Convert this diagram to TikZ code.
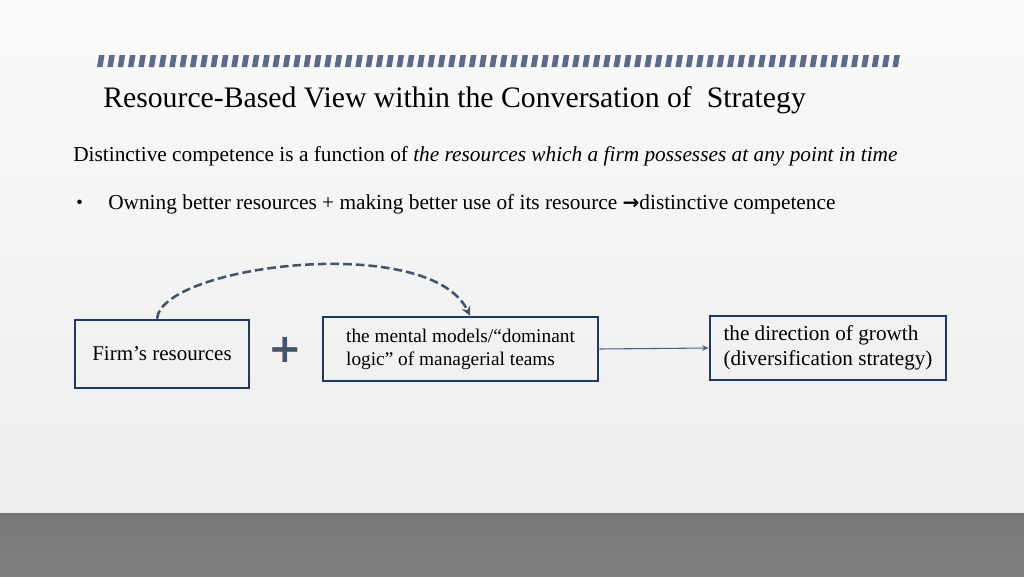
\documentclass[tikz,border=0pt]{standalone}
\usepackage{fontspec}
\setmainfont{Liberation Serif}
\newfontfamily\symfont{DejaVu Sans}
\usetikzlibrary{arrows.meta,calc}
\definecolor{boxblue}{HTML}{1F3864}
\definecolor{stripe}{HTML}{5E6A8A}
\definecolor{dashc}{HTML}{44546A}
\definecolor{plusc}{HTML}{44546A}
\begin{document}
\begin{tikzpicture}[x=0.75pt,y=-0.75pt,
  box/.style={draw=boxblue, line width=1.9pt, align=left, inner sep=0pt},
  ttl/.style={anchor=west, inner sep=0pt}]
\useasboundingbox (0,0) rectangle (1024,576);
% background
\shade[top color=white!96!gray, bottom color=white!86!gray] (0,0) rectangle (1024,514);
\fill[black!55] (0,513) rectangle (1024,516);
\shade[top color=black!53, bottom color=black!50] (0,516) rectangle (1024,576);
% striped bar
\foreach \i in {0,...,77} {
  \fill[stripe] ({97+\i*10.33},67) -- ({97+\i*10.33+5.5},67) -- ({97+\i*10.33+7.5},55) -- ({97+\i*10.33+2},55) -- cycle;
}
% texts
\node[ttl, font=\fontsize{22.3pt}{25pt}\selectfont] (title) at (103,100) {Resource-Based View within the Conversation of\ \ Strategy};
\node[ttl, font=\fontsize{16pt}{19pt}\selectfont] (sub) at (73,156) {Distinctive competence is a function of \textit{the resources which a firm possesses at any point in time}};
\node[ttl, font=\fontsize{14pt}{19pt}\selectfont] (bul) at (76,204) {•};
\node[ttl, font=\fontsize{16pt}{19pt}\selectfont] (btxt) at (108,204) {Owning better resources + making better use of its resource {\symfont\bfseries\fontsize{15pt}{17pt}\selectfont →}distinctive competence};
% boxes
\node[box, minimum width=174*0.75pt, minimum height=68*0.75pt, font=\fontsize{15.75pt}{18pt}\selectfont] (firm) at (162,354) {Firm’s resources};
\node[box, minimum width=275*0.75pt, minimum height=64*0.75pt, font=\fontsize{14.5pt}{17.25pt}\selectfont] (mental) at (460.5,349) {the mental models/“dominant\\logic” of managerial teams};
\node[box, minimum width=236*0.75pt, minimum height=64*0.75pt, font=\fontsize{15.9pt}{19pt}\selectfont] (dir) at (828,348) {the direction of growth\\(diversification strategy)};
\node[text=plusc, font=\symfont\bfseries\fontsize{30pt}{30pt}\selectfont, inner sep=0pt] (plus) at (285,350) {+};
% connectors
\coordinate (cs) at ($(firm.north)+(-5,0)$);
\coordinate (ce) at ($(mental.north)+(9.5,0)$);
\draw[dashc, line width=1.9pt, dash pattern=on 6.5pt off 3pt, -{Stealth[length=7pt,width=7pt]}] (cs) .. controls (162,265) and (430,232) .. (ce);
\draw[boxblue!80, line width=0.8pt, -{Stealth[length=5pt,width=4pt]}] (mental.east) -- (dir.west);
\end{tikzpicture}
\end{document}
